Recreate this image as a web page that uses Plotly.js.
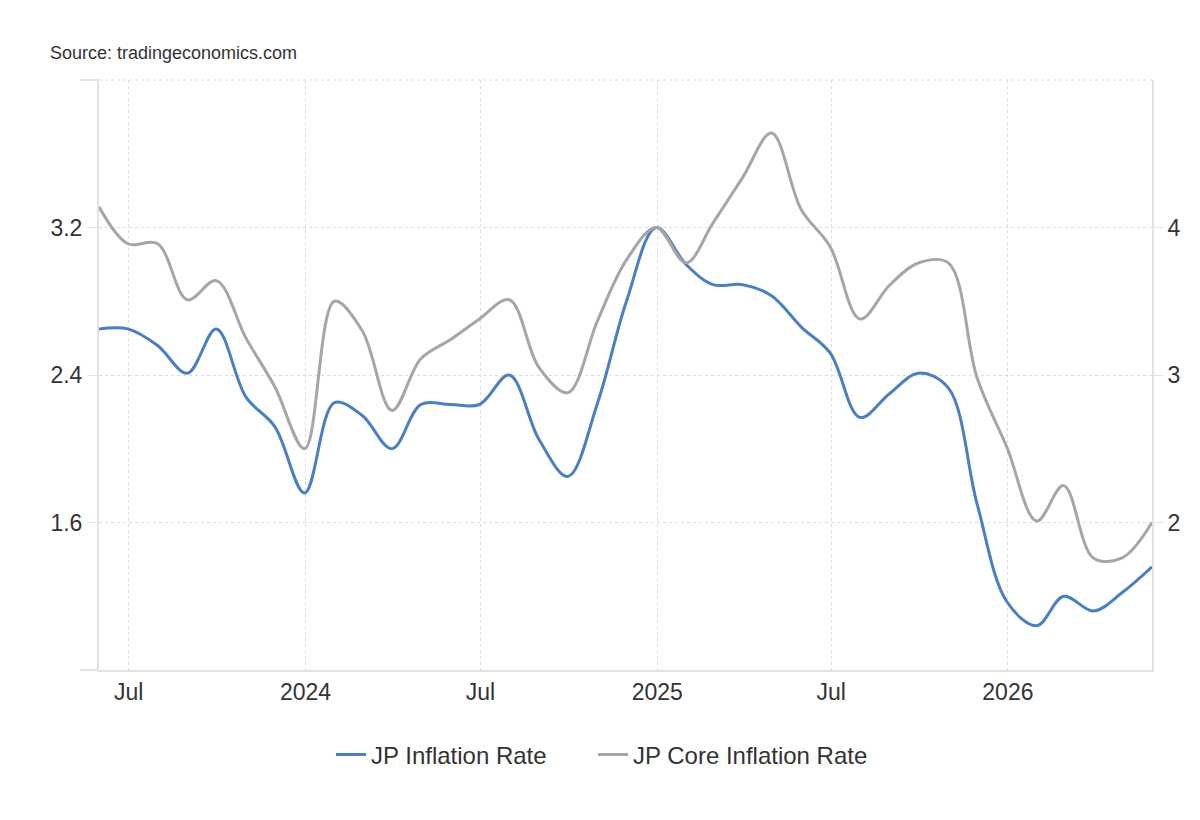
<!DOCTYPE html>
<html>
<head>
<meta charset="utf-8">
<script src="https://cdn.plot.ly/plotly-3.0.1.min.js"></script>
<style>
  html, body { margin: 0; padding: 0; background: #ffffff; }
  #chart { width: 1200px; height: 820px; }
</style>
</head>
<body>
<div id="chart"></div>
<script>
// Monthly observations (month-end dates)
const months = [
  '2023-05-31', '2023-06-30', '2023-07-31', '2023-08-31', '2023-09-30', '2023-10-31',
  '2023-11-30', '2023-12-31', '2024-01-31', '2024-02-29', '2024-03-31', '2024-04-30',
  '2024-05-31', '2024-06-30', '2024-07-31', '2024-08-31', '2024-09-30', '2024-10-31',
  '2024-11-30', '2024-12-31', '2025-01-31', '2025-02-28', '2025-03-31', '2025-04-30',
  '2025-05-31', '2025-06-30', '2025-07-31', '2025-08-31', '2025-09-30', '2025-10-31',
  '2025-11-30', '2025-12-31', '2026-01-31', '2026-02-28', '2026-03-31', '2026-04-30',
  '2026-05-31'
];

// JP Inflation Rate (left axis, %)
const inflationRate = [
  2.65, 2.65, 2.56, 2.41, 2.65, 2.28,
  2.12, 1.76, 2.25, 2.18, 2.00, 2.24,
  2.24, 2.24, 2.40, 2.05, 1.85, 2.25,
  2.80, 3.20, 3.00, 2.89, 2.89, 2.83,
  2.66, 2.52, 2.17, 2.30, 2.41, 2.33,
  1.70, 1.17, 1.04, 1.20, 1.12, 1.22,
  1.36
];

// JP Core Inflation Rate (right axis, %)
const coreInflationRate = [
  4.14, 3.89, 3.89, 3.51, 3.64, 3.25,
  2.92, 2.50, 3.50, 3.30, 2.76, 3.11,
  3.24, 3.38, 3.51, 3.05, 2.88, 3.37,
  3.78, 4.00, 3.76, 4.03, 4.34, 4.64,
  4.12, 3.87, 3.38, 3.61, 3.76, 3.76,
  2.98, 2.51, 2.01, 2.25, 1.76, 1.76,
  2.00
];

// Axis ticks
const xTickDates = ['2023-07-01', '2024-01-01', '2024-07-01', '2025-01-01', '2025-07-01', '2026-01-01'];
const xTickLabels = ['Jul', '2024', 'Jul', '2025', 'Jul', '2026'];
const leftTickVals = [0.8, 1.6, 2.4, 3.2, 4.0];
const leftTickLabels = ['', '1.6', '2.4', '3.2', ''];
const rightTickVals = [2, 3, 4];
const rightTickLabels = ['2', '3', '4'];

const FONT = 'Liberation Sans, Arial, Helvetica, sans-serif';
const TEXT = '#333333';
const AXIS_LINE = '#e2e2e2';
const GRID = '#dcdcdc';

const traces = [
  {
    x: months, y: inflationRate, name: 'JP Inflation Rate',
    type: 'scatter', mode: 'lines', yaxis: 'y', legend: 'legend',
    line: { color: '#4a7fc1', width: 3, shape: 'spline', smoothing: 1 },
    hoverinfo: 'skip'
  },
  {
    x: months, y: coreInflationRate, name: 'JP Core Inflation Rate',
    type: 'scatter', mode: 'lines', yaxis: 'y2', legend: 'legend2',
    line: { color: '#a6a6a6', width: 3, shape: 'spline', smoothing: 1 },
    hoverinfo: 'skip'
  }
];

// outer tick stubs at the ends of the left axis, plus the top grid line
const TICK_STUB = -19 / 1053;
const shapes = [
  { type: 'line', xref: 'paper', yref: 'paper', x0: TICK_STUB, x1: 0, y0: 0, y1: 0,
    line: { color: AXIS_LINE, width: 2 } },
  { type: 'line', xref: 'paper', yref: 'paper', x0: TICK_STUB, x1: 0, y0: 1, y1: 1,
    line: { color: AXIS_LINE, width: 2 } },
  { type: 'line', xref: 'paper', yref: 'paper', x0: 0, x1: 1, y0: 1, y1: 1,
    line: { color: GRID, width: 1, dash: 'dot' }, layer: 'below' }
];

const legendBase = {
  orientation: 'h', xanchor: 'left', y: -0.144, yanchor: 'middle',
  font: { family: FONT, size: 24, color: TEXT },
  bgcolor: 'rgba(0,0,0,0)', borderwidth: 0,
  itemclick: false, itemdoubleclick: false
};

const layout = {
  width: 1200, height: 820,
  margin: { l: 99, r: 48, t: 80, b: 150, pad: 0 },
  paper_bgcolor: '#ffffff', plot_bgcolor: '#ffffff',
  font: { family: FONT, color: TEXT, size: 23 },
  showlegend: true,
  legend: Object.assign({}, legendBase, { x: 0.2203 }),
  legend2: Object.assign({}, legendBase, { x: 0.4691 }),
  xaxis: {
    type: 'date',
    range: ['2023-05-31', '2026-05-31'],
    tickmode: 'array', tickvals: xTickDates, ticktext: xTickLabels,
    showgrid: true, gridcolor: GRID, griddash: 'dot', gridwidth: 1,
    showline: true, linecolor: AXIS_LINE, linewidth: 2,
    ticks: '', zeroline: false,
    tickfont: { family: FONT, size: 23, color: TEXT }
  },
  yaxis: {
    range: [0.8, 4.0],
    tickmode: 'array', tickvals: leftTickVals, ticktext: leftTickLabels,
    showgrid: true, gridcolor: GRID, griddash: 'dot', gridwidth: 1,
    showline: true, linecolor: AXIS_LINE, linewidth: 2,
    ticks: 'outside', ticklen: 10, tickcolor: AXIS_LINE, tickwidth: 1,
    zeroline: false,
    tickfont: { family: FONT, size: 23, color: TEXT }
  },
  yaxis2: {
    overlaying: 'y', side: 'right',
    range: [1, 5],
    tickmode: 'array', tickvals: rightTickVals, ticktext: rightTickLabels,
    showgrid: false,
    showline: true, linecolor: AXIS_LINE, linewidth: 2,
    ticks: 'outside', ticklen: 9, tickcolor: AXIS_LINE, tickwidth: 1,
    zeroline: false,
    tickfont: { family: FONT, size: 23, color: TEXT }
  },
  shapes: shapes,
  annotations: [
    {
      text: 'Source: tradingeconomics.com',
      xref: 'paper', yref: 'paper',
      x: -0.0484, xanchor: 'left',
      y: 1.0458, yanchor: 'middle',
      showarrow: false,
      font: { family: FONT, size: 18, color: TEXT }
    }
  ]
};

Plotly.newPlot('chart', traces, layout, { displayModeBar: false, staticPlot: true });
</script>
</body>
</html>
